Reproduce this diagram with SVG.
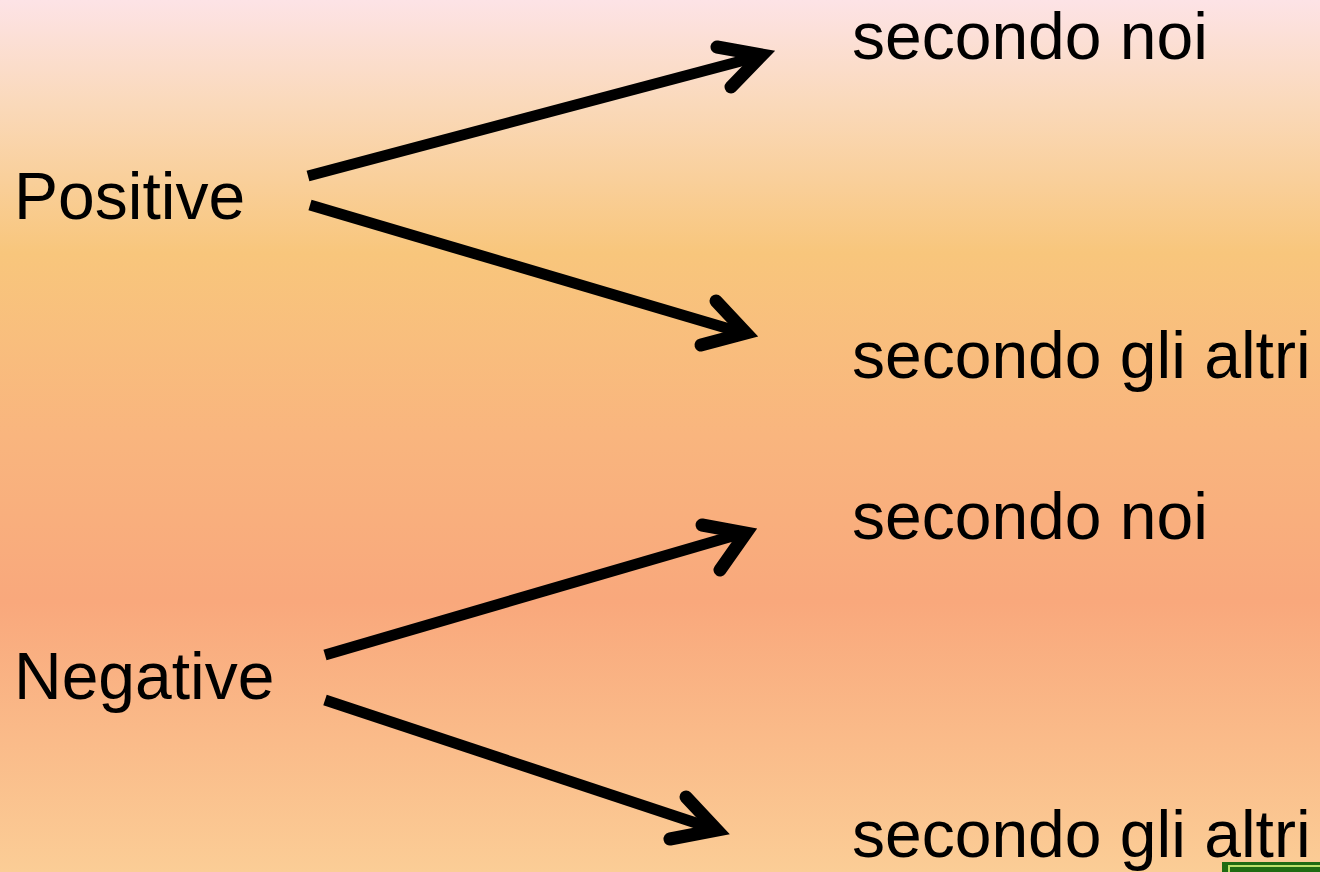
<svg xmlns="http://www.w3.org/2000/svg" width="1320" height="872" viewBox="0 0 1320 872">
<defs>
<linearGradient id="bg" x1="0" y1="0" x2="0" y2="1">
<stop offset="0" stop-color="#FDE3E6"/>
<stop offset="0.12" stop-color="#FAD9BA"/>
<stop offset="0.29" stop-color="#F8C67C"/>
<stop offset="0.5" stop-color="#F9B57E"/>
<stop offset="0.69" stop-color="#F9A87C"/>
<stop offset="1" stop-color="#FBCD96"/>
</linearGradient>
<style>
.t{font-family:"Liberation Sans",Arial,sans-serif;font-size:66px;fill:#000}
.ln{stroke:#000;stroke-width:11;fill:none;stroke-linecap:butt}
.hd{stroke:#000;stroke-width:13;fill:none;stroke-linecap:round;stroke-linejoin:miter;stroke-miterlimit:10}
</style>
</defs>
<rect width="1320" height="872" fill="url(#bg)"/>
<g id="n-positive"><text class="t" x="14" y="219">Positive</text></g>
<g id="n-negative"><text class="t" x="14" y="699">Negative</text></g>
<g id="n-pos-noi"><text class="t" x="852" y="59">secondo noi</text></g>
<g id="n-pos-altri"><text class="t" x="852" y="378">secondo gli altri</text></g>
<g id="n-neg-noi"><text class="t" x="852" y="539">secondo noi</text></g>
<g id="n-neg-altri"><text class="t" x="852" y="857">secondo gli altri</text></g>
<g id="connectors">
<line class="ln" x1="308" y1="176" x2="760" y2="56"/>
<polyline class="hd" points="717,47 762,55 731,87"/>
<line class="ln" x1="310" y1="205" x2="743" y2="333"/>
<polyline class="hd" points="716,301 746,333 701,345"/>
<line class="ln" x1="325" y1="655" x2="743" y2="533"/>
<polyline class="hd" points="702,525 746,533 720,570"/>
<line class="ln" x1="325" y1="700" x2="714" y2="829"/>
<polyline class="hd" points="686,797 717,830 670,839"/>
</g>
<g id="corner-button">
<rect x="1222" y="862" width="100" height="14" fill="#1E6B12"/>
<rect x="1229" y="866" width="93" height="10" fill="none" stroke="#B9E06A" stroke-width="2"/>
</g>
</svg>
